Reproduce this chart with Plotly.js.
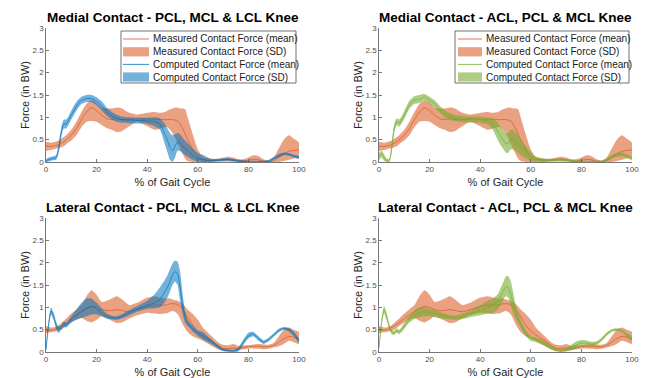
<!DOCTYPE html>
<html><head><meta charset="utf-8">
<script src="https://cdn.plot.ly/plotly-3.0.1.min.js"></script>
<style>html,body{margin:0;padding:0;background:#fff}#chart{width:649px;height:378px}</style>
</head><body><div id="chart"></div>
<script>
// % of gait cycle
const gaitPct = [0,1,2,3,4,5,6,7,8,10,12,14,16,18,20,22,24,26,28,30,33,36,40,43,45,47,48,49,50,51,52,53,54,55,56,58,60,62,65,68,70,72,74,76,78,80,82,84,86,88,90,92,94,96,98,100];

// Measured medial contact force (BW)
const measMedMean = [0.35,0.35,0.35,0.36,0.37,0.39,0.42,0.45,0.5,0.6,0.75,0.95,1.12,1.22,1.15,1.05,0.97,0.95,0.97,0.95,0.95,0.97,0.96,0.95,0.95,0.95,0.95,0.95,0.95,0.94,0.92,0.85,0.75,0.62,0.5,0.28,0.12,0.06,0.04,0.04,0.05,0.06,0.05,0.03,0.02,0.04,0.06,0.05,0.02,0.01,0.03,0.1,0.18,0.24,0.26,0.27];
const measMedHi   = [0.45,0.44,0.43,0.44,0.46,0.48,0.52,0.56,0.6,0.72,0.9,1.12,1.3,1.38,1.32,1.22,1.2,1.2,1.22,1.2,1.1,1.06,1.1,1.12,1.1,1.12,1.15,1.18,1.2,1.22,1.22,1.2,1.2,1.18,1.0,0.62,0.28,0.12,0.08,0.07,0.1,0.12,0.1,0.06,0.06,0.1,0.15,0.13,0.06,0.03,0.1,0.3,0.5,0.6,0.52,0.43];
const measMedLo   = [0.25,0.26,0.27,0.28,0.3,0.31,0.33,0.35,0.4,0.48,0.6,0.78,0.9,0.92,0.9,0.83,0.76,0.72,0.67,0.69,0.8,0.9,0.8,0.72,0.75,0.78,0.78,0.72,0.65,0.55,0.42,0.3,0.18,0.08,0.02,0.0,0.0,0.0,0.0,0.01,0.01,0.01,0.01,0.0,0.0,0.0,0.01,0.0,0.0,0.0,0.0,0.0,0.02,0.05,0.08,0.1];

// Measured lateral contact force (BW)
const measLatMean = [0.48,0.48,0.49,0.5,0.52,0.55,0.58,0.62,0.66,0.75,0.83,0.9,0.97,1.02,1.0,0.95,0.93,0.93,0.95,0.93,0.9,0.95,1.02,1.05,1.05,1.05,1.06,1.08,1.08,1.08,1.06,1.02,0.96,0.88,0.78,0.6,0.47,0.38,0.27,0.15,0.08,0.08,0.09,0.08,0.1,0.12,0.13,0.13,0.12,0.12,0.15,0.22,0.3,0.35,0.33,0.28];
const measLatHi   = [0.58,0.56,0.55,0.55,0.57,0.6,0.65,0.7,0.75,0.86,0.95,1.05,1.25,1.38,1.28,1.12,1.15,1.2,1.25,1.18,1.05,1.1,1.22,1.25,1.22,1.2,1.2,1.2,1.18,1.16,1.15,1.12,1.08,1.02,0.95,0.85,0.72,0.55,0.38,0.22,0.16,0.15,0.18,0.14,0.15,0.15,0.17,0.18,0.17,0.16,0.2,0.35,0.5,0.55,0.5,0.45];
const measLatLo   = [0.42,0.43,0.44,0.45,0.46,0.48,0.5,0.54,0.58,0.66,0.72,0.76,0.7,0.66,0.72,0.8,0.75,0.7,0.65,0.66,0.75,0.82,0.88,0.86,0.85,0.86,0.87,0.9,0.92,0.9,0.85,0.75,0.62,0.52,0.45,0.35,0.3,0.25,0.15,0.06,0.02,0.02,0.03,0.04,0.06,0.08,0.08,0.07,0.06,0.07,0.1,0.13,0.18,0.25,0.22,0.18];

// Computed medial, PCL MCL & LCL knee
const compMedPclMean = [0.02,0.05,0.07,0.08,0.1,0.3,0.65,0.85,0.85,1.05,1.25,1.38,1.42,1.42,1.36,1.26,1.13,1.03,0.98,0.95,0.94,0.93,0.92,0.9,0.85,0.62,0.48,0.33,0.25,0.35,0.45,0.42,0.36,0.3,0.26,0.15,0.08,0.05,0.03,0.04,0.05,0.06,0.04,0.02,0.01,0.0,0.0,0.0,0.0,0.02,0.08,0.14,0.18,0.17,0.13,0.1];
const compMedPclHi   = [0.06,0.1,0.12,0.13,0.15,0.4,0.75,0.95,0.95,1.15,1.35,1.46,1.5,1.5,1.45,1.36,1.22,1.12,1.06,1.02,1.0,0.99,0.99,1.0,0.98,0.85,0.75,0.65,0.6,0.62,0.65,0.62,0.55,0.48,0.42,0.3,0.2,0.16,0.07,0.07,0.08,0.09,0.07,0.05,0.04,0.03,0.03,0.03,0.03,0.05,0.11,0.18,0.21,0.2,0.16,0.13];
const compMedPclLo   = [0.0,0.01,0.03,0.04,0.05,0.2,0.55,0.75,0.75,0.95,1.15,1.3,1.34,1.34,1.27,1.16,1.04,0.95,0.9,0.88,0.87,0.86,0.85,0.8,0.72,0.4,0.22,0.05,0.0,0.1,0.25,0.24,0.2,0.15,0.12,0.05,0.01,0.0,0.0,0.01,0.02,0.03,0.01,0.0,0.0,0.0,0.0,0.0,0.0,0.0,0.05,0.1,0.15,0.14,0.1,0.07];

// Computed medial, ACL PCL & MCL knee
const compMedAclMean = [0.12,0.18,0.1,0.02,0.02,0.3,0.75,0.9,0.87,1.05,1.28,1.38,1.4,1.45,1.38,1.3,1.18,1.08,1.02,0.98,0.96,0.95,0.95,0.92,0.85,0.68,0.58,0.5,0.42,0.42,0.5,0.5,0.45,0.4,0.35,0.22,0.12,0.06,0.04,0.04,0.05,0.05,0.04,0.02,0.01,0.01,0.0,0.0,0.0,0.01,0.05,0.12,0.16,0.17,0.13,0.08];
const compMedAclHi   = [0.2,0.26,0.18,0.08,0.07,0.4,0.85,0.98,0.95,1.14,1.37,1.47,1.5,1.52,1.46,1.38,1.26,1.16,1.1,1.05,1.03,1.02,1.02,1.0,0.98,0.88,0.8,0.72,0.65,0.65,0.72,0.72,0.66,0.6,0.52,0.36,0.22,0.12,0.08,0.07,0.08,0.08,0.07,0.05,0.04,0.04,0.03,0.03,0.03,0.04,0.08,0.16,0.2,0.21,0.17,0.12];
const compMedAclLo   = [0.04,0.1,0.03,0.0,0.0,0.2,0.65,0.82,0.79,0.96,1.19,1.3,1.32,1.38,1.3,1.22,1.1,1.0,0.94,0.91,0.89,0.88,0.88,0.84,0.72,0.48,0.38,0.3,0.22,0.2,0.28,0.28,0.25,0.2,0.16,0.08,0.03,0.01,0.0,0.01,0.02,0.02,0.01,0.0,0.0,0.0,0.0,0.0,0.0,0.0,0.02,0.08,0.12,0.13,0.09,0.04];

// Computed lateral, PCL MCL & LCL knee
const compLatPclMean = [0.05,0.6,0.92,0.8,0.6,0.5,0.55,0.62,0.6,0.72,0.82,0.9,0.98,1.02,0.96,0.88,0.8,0.77,0.76,0.8,0.88,0.96,1.05,1.1,1.18,1.35,1.45,1.58,1.72,1.8,1.75,1.45,1.05,0.78,0.65,0.52,0.42,0.35,0.25,0.12,0.05,0.03,0.02,0.05,0.22,0.36,0.4,0.3,0.22,0.28,0.38,0.48,0.53,0.5,0.4,0.25];
const compLatPclHi   = [0.1,0.68,1.0,0.88,0.68,0.57,0.6,0.68,0.66,0.8,0.95,1.1,1.2,1.2,1.1,0.98,0.86,0.81,0.8,0.85,0.94,1.03,1.15,1.3,1.45,1.62,1.72,1.85,1.98,2.05,2.02,1.8,1.3,0.9,0.72,0.58,0.48,0.45,0.3,0.15,0.08,0.06,0.05,0.1,0.28,0.43,0.45,0.35,0.26,0.32,0.42,0.52,0.56,0.54,0.45,0.3];
const compLatPclLo   = [0.0,0.52,0.84,0.72,0.52,0.42,0.5,0.56,0.55,0.66,0.72,0.76,0.8,0.84,0.84,0.8,0.75,0.73,0.72,0.75,0.82,0.9,0.97,0.98,1.0,1.12,1.22,1.35,1.5,1.58,1.5,1.15,0.85,0.65,0.58,0.46,0.36,0.28,0.19,0.08,0.02,0.0,0.0,0.01,0.16,0.3,0.35,0.25,0.18,0.24,0.34,0.44,0.5,0.46,0.35,0.2];

// Computed lateral, ACL PCL & MCL knee
const compLatAclMean = [0.1,0.65,0.95,0.8,0.58,0.45,0.42,0.48,0.45,0.58,0.72,0.82,0.88,0.9,0.88,0.86,0.83,0.8,0.78,0.77,0.8,0.85,0.92,1.0,1.05,1.15,1.25,1.35,1.45,1.45,1.3,1.1,0.9,0.75,0.62,0.42,0.3,0.27,0.2,0.1,0.04,0.02,0.04,0.1,0.16,0.2,0.2,0.18,0.2,0.28,0.4,0.48,0.5,0.48,0.38,0.3];
const compLatAclHi   = [0.15,0.72,1.03,0.88,0.64,0.5,0.47,0.53,0.5,0.65,0.8,0.93,1.0,1.0,0.97,0.94,0.9,0.86,0.83,0.82,0.86,0.93,1.05,1.15,1.2,1.3,1.42,1.55,1.68,1.7,1.6,1.35,1.05,0.85,0.7,0.5,0.36,0.33,0.25,0.14,0.08,0.06,0.09,0.16,0.24,0.27,0.26,0.23,0.24,0.32,0.44,0.51,0.53,0.5,0.42,0.35];
const compLatAclLo   = [0.05,0.58,0.87,0.72,0.52,0.4,0.38,0.43,0.4,0.52,0.66,0.74,0.78,0.8,0.8,0.78,0.76,0.74,0.73,0.72,0.74,0.78,0.82,0.86,0.88,0.95,1.05,1.15,1.25,1.22,1.05,0.88,0.75,0.65,0.55,0.36,0.25,0.22,0.15,0.06,0.01,0.0,0.01,0.04,0.08,0.12,0.14,0.13,0.16,0.24,0.36,0.45,0.47,0.45,0.34,0.25];

const panelTitles = ['Medial Contact - PCL, MCL & LCL Knee','Medial Contact - ACL, PCL & MCL Knee','Lateral Contact - PCL, MCL & LCL Knee','Lateral Contact - ACL, PCL & MCL Knee'];
const legendNames = ['Measured Contact Force (mean)','Measured Contact Force (SD)','Computed Contact Force (mean)','Computed Contact Force (SD)'];

const ORANGE = '#D95319', ORANGE_FILL = 'rgba(217,83,25,0.55)';
const BLUE = '#0072BD', BLUE_FILL = 'rgba(0,114,189,0.55)';
const GREEN = '#77AC30', GREEN_FILL = 'rgba(119,172,48,0.6)';
const FONT = 'Liberation Sans, Arial, sans-serif';

function bandXY(x, lo, hi) {
  return { x: x.concat(x.slice().reverse()), y: hi.concat(lo.slice().reverse()) };
}

const panels = [
  {ax:'',  meas:[measMedMean,measMedLo,measMedHi], comp:[compMedPclMean,compMedPclLo,compMedPclHi], c:BLUE,  f:BLUE_FILL},
  {ax:'2', meas:[measMedMean,measMedLo,measMedHi], comp:[compMedAclMean,compMedAclLo,compMedAclHi], c:GREEN, f:GREEN_FILL},
  {ax:'3', meas:[measLatMean,measLatLo,measLatHi], comp:[compLatPclMean,compLatPclLo,compLatPclHi], c:BLUE,  f:BLUE_FILL},
  {ax:'4', meas:[measLatMean,measLatLo,measLatHi], comp:[compLatAclMean,compLatAclLo,compLatAclHi], c:GREEN, f:GREEN_FILL}
];

const traces = [];
panels.forEach(p => {
  const xa = 'x' + p.ax, ya = 'y' + p.ax;
  const mb = bandXY(gaitPct, p.meas[1], p.meas[2]);
  const cb = bandXY(gaitPct, p.comp[1], p.comp[2]);
  traces.push({type:'scatter', mode:'lines', x:gaitPct, y:p.meas[0], xaxis:xa, yaxis:ya, name:legendNames[0],
    line:{color:ORANGE, width:0.7, shape:'spline', smoothing:0.6}, showlegend:false, hoverinfo:'skip'});
  traces.push({type:'scatter', mode:'lines', x:mb.x, y:mb.y, xaxis:xa, yaxis:ya, name:legendNames[1], fill:'toself',
    fillcolor:ORANGE_FILL, line:{width:0, color:ORANGE_FILL, shape:'spline', smoothing:0.6}, showlegend:false, hoverinfo:'skip'});
  traces.push({type:'scatter', mode:'lines', x:gaitPct, y:p.comp[0], xaxis:xa, yaxis:ya, name:legendNames[2],
    line:{color:p.c, width:0.7, shape:'spline', smoothing:0.6}, showlegend:false, hoverinfo:'skip'});
  traces.push({type:'scatter', mode:'lines', x:cb.x, y:cb.y, xaxis:xa, yaxis:ya, name:legendNames[3], fill:'toself',
    fillcolor:p.f, line:{width:0, color:p.f, shape:'spline', smoothing:0.6}, showlegend:false, hoverinfo:'skip'});
});

const W = 649, H = 378;
const xDomL = [46/W, 299/W], xDomR = [379/W, 632/W];
const yDomT = [1-162/H, 1-28/H], yDomB = [1-352/H, 1-218/H];

const axisFont = {family:FONT, size:8, color:'#4d4d4d'};
const AX = '#555555';
function xAxis(dom, anchor) {
  return {domain:dom, anchor:anchor, range:[0,100], tickvals:[0,20,40,60,80,100], showgrid:false, zeroline:false,
    showline:true, linecolor:AX, linewidth:0.8, ticks:'inside', ticklen:3, tickcolor:AX, tickwidth:0.8,
    tickfont:axisFont, fixedrange:true,
    title:{text:'% of Gait Cycle', font:{family:FONT, size:11, color:'#262626'}, standoff:4}};
}
function yAxis(dom, anchor) {
  return {domain:dom, anchor:anchor, range:[0,3], tickvals:[0,0.5,1,1.5,2,2.5,3], showgrid:false, zeroline:false,
    showline:true, linecolor:AX, linewidth:0.8, ticks:'inside', ticklen:3, tickcolor:AX, tickwidth:0.8,
    tickfont:axisFont, fixedrange:true,
    title:{text:'Force (in BW)', font:{family:FONT, size:11, color:'#262626'}, standoff:0}};
}

const annotations = panelTitles.map((t, i) => ({
  text:'<b>'+t+'</b>', xref:'paper', yref:'paper', showarrow:false,
  x: (i % 2 === 0) ? (xDomL[0]+xDomL[1])/2 : (xDomR[0]+xDomR[1])/2,
  y: i < 2 ? 1-17/H : 1-207/H, xanchor:'center', yanchor:'middle',
  font:{family:FONT, size:13.5, color:'#000'}
}));

// Legend boxes (top panels), in pixel geometry converted to paper fractions
const shapes = [];
const px = v => v / W, py = v => 1 - v / H;
const legendBoxes = [
  {left:121, right:296, top:31, bottom:83, icon0:123, icon1:149, text:151, c:BLUE, f:BLUE_FILL},
  {left:455, right:629, top:31, bottom:83, icon0:458, icon1:482, text:484, c:GREEN, f:GREEN_FILL}
];
const rowY = [39, 51.8, 64.4, 77];
legendBoxes.forEach(b => {
  shapes.push({type:'rect', xref:'paper', yref:'paper', x0:px(b.left), x1:px(b.right), y0:py(b.bottom), y1:py(b.top),
    fillcolor:'#ffffff', line:{color:'#333333', width:0.7}, layer:'above'});
  const styles = [
    {kind:'line', color:ORANGE}, {kind:'rect', color:ORANGE_FILL},
    {kind:'line', color:b.c}, {kind:'rect', color:b.f}
  ];
  styles.forEach((s, i) => {
    if (s.kind === 'line') {
      shapes.push({type:'line', xref:'paper', yref:'paper', x0:px(b.icon0), x1:px(b.icon1), y0:py(rowY[i]), y1:py(rowY[i]),
        line:{color:s.color, width:0.8}, layer:'above'});
    } else {
      shapes.push({type:'rect', xref:'paper', yref:'paper', x0:px(b.icon0), x1:px(b.icon1), y0:py(rowY[i]+4.6), y1:py(rowY[i]-4.6),
        fillcolor:s.color, line:{width:0}, layer:'above'});
    }
    annotations.push({text:legendNames[i], xref:'paper', yref:'paper', showarrow:false, x:px(b.text), y:py(rowY[i]),
      xanchor:'left', yanchor:'middle', font:{family:FONT, size:10, color:'#1a1a1a'}});
  });
});

const layout = {
  width:W, height:H, margin:{l:0,r:0,t:0,b:0}, paper_bgcolor:'#fff', plot_bgcolor:'#fff',
  showlegend:false,
  xaxis:xAxis(xDomL,'y'), yaxis:yAxis(yDomT,'x'),
  xaxis2:xAxis(xDomR,'y2'), yaxis2:yAxis(yDomT,'x2'),
  xaxis3:xAxis(xDomL,'y3'), yaxis3:yAxis(yDomB,'x3'),
  xaxis4:xAxis(xDomR,'y4'), yaxis4:yAxis(yDomB,'x4'),
  annotations:annotations, shapes:shapes
};

Plotly.newPlot('chart', traces, layout, {staticPlot:true, displayModeBar:false});
</script>
</body></html>
